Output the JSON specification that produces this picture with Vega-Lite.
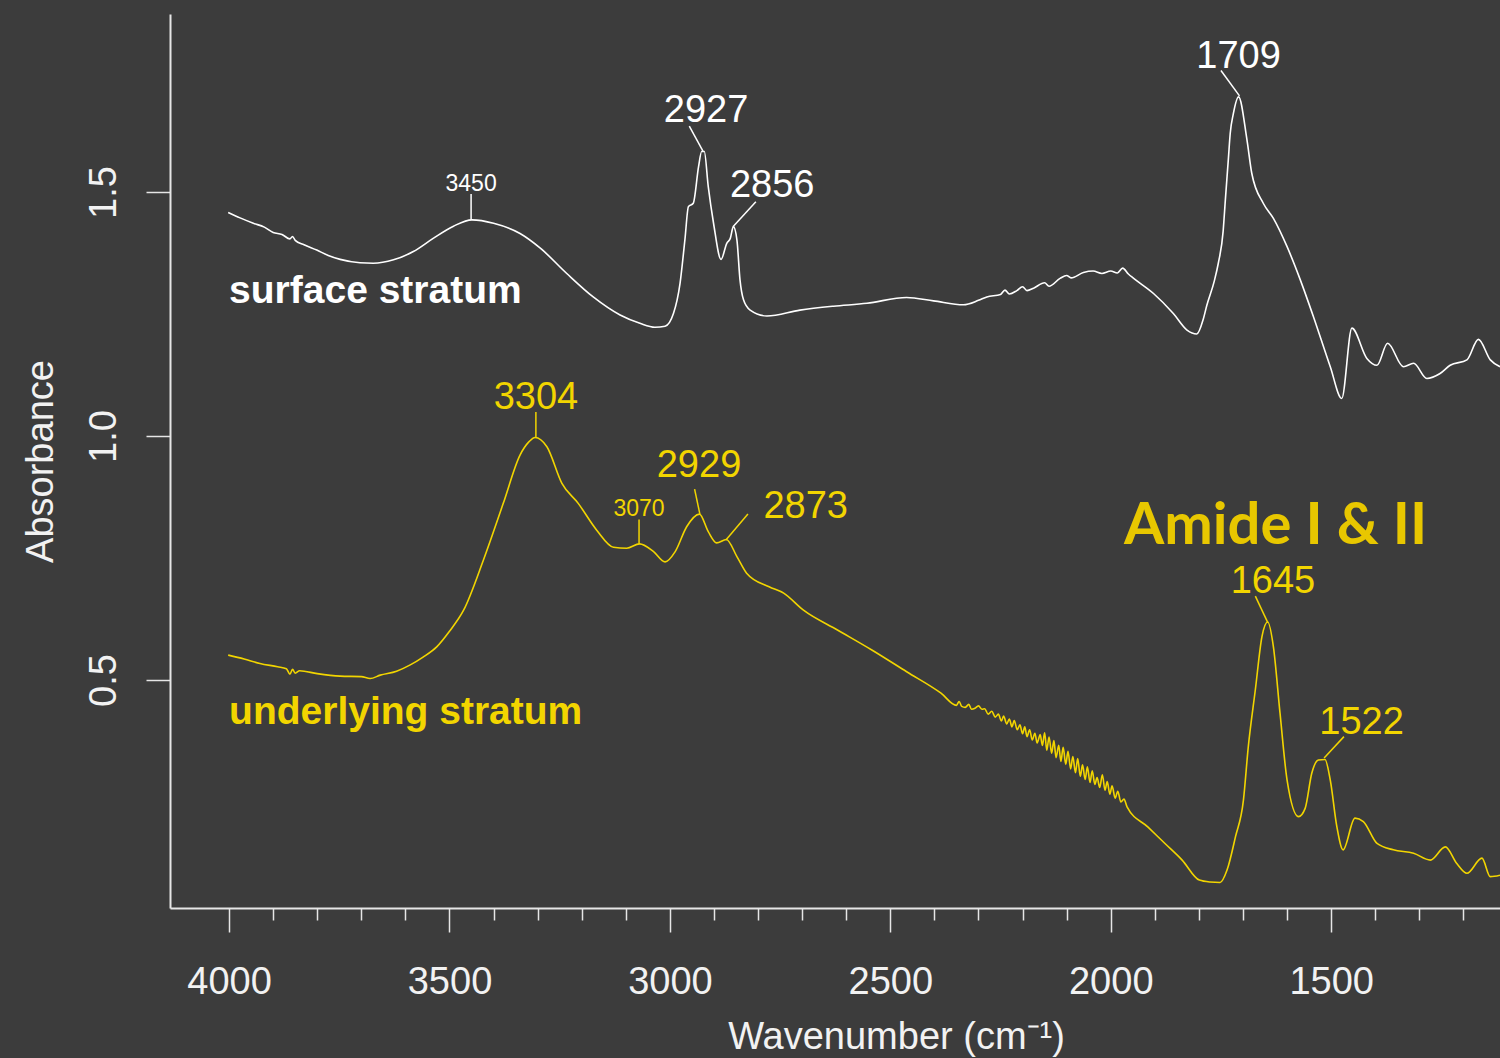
{
  "$schema": "https://vega.github.io/schema/vega-lite/v6.json",
  "width": 1330,
  "height": 894,
  "autosize": {"type": "none"},
  "padding": {"left": 170, "top": 14, "right": 0, "bottom": 150},
  "background": "#3c3c3c",
  "config": {"view": {"stroke": null}, "font": "Liberation Sans"},
  "datasets": {
    "surface": [
      {"w":4002,"a":1.458},{"w":3975,"a":1.447},{"w":3945,"a":1.436},{"w":3920,"a":1.428},{"w":3900,"a":1.417},
      {"w":3880,"a":1.413},{"w":3862,"a":1.404},{"w":3856,"a":1.409},{"w":3850,"a":1.401},{"w":3830,"a":1.392},{"w":3801,"a":1.381},
      {"w":3775,"a":1.370},{"w":3748,"a":1.362},{"w":3703,"a":1.355},{"w":3673,"a":1.354},{"w":3627,"a":1.361},
      {"w":3582,"a":1.378},{"w":3537,"a":1.405},{"w":3491,"a":1.430},{"w":3449,"a":1.443},{"w":3400,"a":1.436},
      {"w":3340,"a":1.415},{"w":3294,"a":1.385},{"w":3234,"a":1.333},{"w":3174,"a":1.285},{"w":3113,"a":1.248},
      {"w":3068,"a":1.231},{"w":3034,"a":1.223},{"w":3011,"a":1.225},{"w":2992,"a":1.251},{"w":2977,"a":1.313},
      {"w":2966,"a":1.402},{"w":2958,"a":1.470},{"w":2947,"a":1.477},{"w":2935,"a":1.552},{"w":2928,"a":1.583},
      {"w":2922,"a":1.583},{"w":2913,"a":1.511},{"w":2901,"a":1.436},{"w":2884,"a":1.362},{"w":2871,"a":1.395},
      {"w":2863,"a":1.405},{"w":2856,"a":1.429},{"w":2848,"a":1.402},{"w":2841,"a":1.320},{"w":2833,"a":1.279},
      {"w":2818,"a":1.258},{"w":2780,"a":1.246},{"w":2705,"a":1.258},{"w":2629,"a":1.266},{"w":2553,"a":1.272},
      {"w":2463,"a":1.284},{"w":2402,"a":1.277},{"w":2334,"a":1.269},{"w":2300,"a":1.278},{"w":2281,"a":1.285},{"w":2250,"a":1.290},
      {"w":2240,"a":1.299},{"w":2230,"a":1.291},{"w":2213,"a":1.298},{"w":2200,"a":1.306},{"w":2190,"a":1.298},
      {"w":2175,"a":1.303},{"w":2150,"a":1.314},{"w":2140,"a":1.307},{"w":2115,"a":1.323},{"w":2100,"a":1.329},
      {"w":2090,"a":1.324},{"w":2062,"a":1.335},{"w":2040,"a":1.338},{"w":2020,"a":1.333},{"w":2000,"a":1.338},
      {"w":1985,"a":1.334},{"w":1973,"a":1.344},{"w":1960,"a":1.332},{"w":1948,"a":1.323},{"w":1903,"a":1.292},
      {"w":1858,"a":1.251},{"w":1827,"a":1.217},{"w":1805,"a":1.209},{"w":1790,"a":1.240},{"w":1782,"a":1.268},
      {"w":1765,"a":1.318},{"w":1756,"a":1.354},{"w":1745,"a":1.420},{"w":1740,"a":1.484},{"w":1733,"a":1.570},
      {"w":1729,"a":1.620},{"w":1722,"a":1.660},{"w":1710,"a":1.695},{"w":1691,"a":1.607},{"w":1680,"a":1.538},
      {"w":1654,"a":1.477},{"w":1631,"a":1.446},{"w":1600,"a":1.388},{"w":1570,"a":1.320},{"w":1540,"a":1.244},
      {"w":1502,"a":1.142},{"w":1476,"a":1.077},{"w":1453,"a":1.221},{"w":1419,"a":1.159},{"w":1396,"a":1.145},
      {"w":1372,"a":1.190},{"w":1336,"a":1.142},{"w":1313,"a":1.149},{"w":1283,"a":1.118},{"w":1253,"a":1.128},
      {"w":1230,"a":1.145},{"w":1192,"a":1.156},{"w":1166,"a":1.198},{"w":1139,"a":1.156},{"w":1117,"a":1.142}
    ],
    "underlying": [
      {"w":4002,"a":0.551},{"w":3966,"a":0.543},{"w":3930,"a":0.534},{"w":3890,"a":0.527},{"w":3870,"a":0.523},
      {"w":3862,"a":0.512},{"w":3856,"a":0.522},{"w":3850,"a":0.514},{"w":3840,"a":0.519},{"w":3800,"a":0.513},
      {"w":3748,"a":0.508},{"w":3700,"a":0.507},{"w":3680,"a":0.503},{"w":3657,"a":0.510},{"w":3620,"a":0.518},
      {"w":3589,"a":0.531},{"w":3560,"a":0.547},{"w":3529,"a":0.568},{"w":3500,"a":0.600},{"w":3468,"a":0.643},
      {"w":3423,"a":0.746},{"w":3378,"a":0.862},{"w":3340,"a":0.961},{"w":3320,"a":0.988},{"w":3306,"a":0.997},
      {"w":3279,"a":0.978},{"w":3245,"a":0.903},{"w":3208,"a":0.862},{"w":3166,"a":0.807},{"w":3128,"a":0.772},
      {"w":3098,"a":0.770},{"w":3069,"a":0.779},{"w":3037,"a":0.763},{"w":3011,"a":0.742},{"w":2988,"a":0.763},
      {"w":2962,"a":0.814},{"w":2933,"a":0.840},{"w":2913,"a":0.804},{"w":2894,"a":0.781},{"w":2872,"a":0.788},
      {"w":2848,"a":0.753},{"w":2826,"a":0.719},{"w":2775,"a":0.691},{"w":2742,"a":0.678},{"w":2697,"a":0.643},
      {"w":2619,"a":0.602},{"w":2541,"a":0.561},{"w":2463,"a":0.517},{"w":2385,"a":0.473},
      {"w":2350,"a":0.448},{"w":2344,"a":0.456},{"w":2338,"a":0.446},{"w":2330,"a":0.444},{"w":2322,"a":0.450},
      {"w":2316,"a":0.440},{"w":2308,"a":0.442},{"w":2300,"a":0.447},{"w":2292,"a":0.440},{"w":2286,"a":0.441},
      {"w":2278,"a":0.430},{"w":2270,"a":0.436},{"w":2262,"a":0.424},{"w":2255,"a":0.430},{"w":2248,"a":0.416},
      {"w":2243,"a":0.426},{"w":2236,"a":0.410},{"w":2230,"a":0.420},{"w":2224,"a":0.404},{"w":2219,"a":0.417},
      {"w":2212,"a":0.398},{"w":2206,"a":0.408},{"w":2200,"a":0.390},{"w":2195,"a":0.404},{"w":2190,"a":0.384},
      {"w":2184,"a":0.398},{"w":2178,"a":0.377},{"w":2172,"a":0.391},{"w":2167,"a":0.371},{"w":2160,"a":0.388},
      {"w":2155,"a":0.366},{"w":2150,"a":0.392},{"w":2145,"a":0.356},{"w":2140,"a":0.383},{"w":2134,"a":0.350},
      {"w":2129,"a":0.376},{"w":2124,"a":0.341},{"w":2118,"a":0.366},{"w":2113,"a":0.333},{"w":2108,"a":0.362},
      {"w":2102,"a":0.327},{"w":2097,"a":0.354},{"w":2091,"a":0.318},{"w":2086,"a":0.343},{"w":2080,"a":0.310},
      {"w":2075,"a":0.339},{"w":2069,"a":0.303},{"w":2064,"a":0.326},{"w":2058,"a":0.296},{"w":2053,"a":0.322},
      {"w":2047,"a":0.290},{"w":2042,"a":0.314},{"w":2036,"a":0.286},{"w":2031,"a":0.300},{"w":2025,"a":0.280},
      {"w":2019,"a":0.306},{"w":2013,"a":0.274},{"w":2008,"a":0.292},{"w":2002,"a":0.266},{"w":1997,"a":0.283},
      {"w":1990,"a":0.258},{"w":1984,"a":0.272},{"w":1977,"a":0.250},{"w":1970,"a":0.256},
      {"w":1963,"a":0.240},{"w":1916,"a":0.199},{"w":1877,"a":0.165},{"w":1838,"a":0.131},{"w":1799,"a":0.090},
      {"w":1775,"a":0.086},{"w":1752,"a":0.085},{"w":1736,"a":0.111},{"w":1717,"a":0.179},{"w":1699,"a":0.254},
      {"w":1688,"a":0.363},{"w":1672,"a":0.480},{"w":1657,"a":0.589},{"w":1644,"a":0.619},{"w":1631,"a":0.568},
      {"w":1616,"a":0.432},{"w":1600,"a":0.295},{"w":1574,"a":0.220},{"w":1559,"a":0.237},{"w":1544,"a":0.309},
      {"w":1529,"a":0.336},{"w":1514,"a":0.337},{"w":1502,"a":0.295},{"w":1487,"a":0.199},{"w":1473,"a":0.152},
      {"w":1446,"a":0.217},{"w":1427,"a":0.210},{"w":1396,"a":0.165},{"w":1359,"a":0.152},{"w":1313,"a":0.145},
      {"w":1275,"a":0.131},{"w":1241,"a":0.158},{"w":1215,"a":0.124},{"w":1192,"a":0.104},{"w":1158,"a":0.135},
      {"w":1139,"a":0.097},{"w":1117,"a":0.100}
    ],
    "leaders": [
      {"w":3451,"a":1.496,"w2":3451,"a2":1.443,"series":"surface"},
      {"w":2956,"a":1.635,"w2":2925,"a2":1.584,"series":"surface"},
      {"w":2805,"a":1.480,"w2":2857,"a2":1.429,"series":"surface"},
      {"w":1750,"a":1.749,"w2":1708,"a2":1.697,"series":"surface"},
      {"w":3304,"a":1.049,"w2":3304,"a2":0.997,"series":"underlying"},
      {"w":3070,"a":0.829,"w2":3070,"a2":0.779,"series":"underlying"},
      {"w":2944,"a":0.891,"w2":2932,"a2":0.840,"series":"underlying"},
      {"w":2823,"a":0.840,"w2":2873,"a2":0.787,"series":"underlying"},
      {"w":1672,"a":0.672,"w2":1644,"a2":0.618,"series":"underlying"},
      {"w":1471,"a":0.384,"w2":1516,"a2":0.340,"series":"underlying"}
    ],
    "peaks": [
      {"w":3451,"a":1.502,"label":"3450","series":"surface","kind":"minor"},
      {"w":2918,"a":1.643,"label":"2927","series":"surface","kind":"major"},
      {"w":2768,"a":1.490,"label":"2856","series":"surface","kind":"major"},
      {"w":1710,"a":1.754,"label":"1709","series":"surface","kind":"major"},
      {"w":3304,"a":1.055,"label":"3304","series":"underlying","kind":"major"},
      {"w":3070,"a":0.836,"label":"3070","series":"underlying","kind":"minor"},
      {"w":2934,"a":0.916,"label":"2929","series":"underlying","kind":"major"},
      {"w":2692,"a":0.832,"label":"2873","series":"underlying","kind":"major"},
      {"w":1632,"a":0.678,"label":"1645","series":"underlying","kind":"major"},
      {"w":1431,"a":0.389,"label":"1522","series":"underlying","kind":"major"}
    ],
    "series": [
      {"w":4000,"a":1.2725,"label":"surface stratum","series":"surface"},
      {"w":4000,"a":0.4098,"label":"underlying stratum","series":"underlying"}
    ],
    "band": [
      {"w":1970,"a":0.779,"label":"Amide I & II"}
    ]
  },
  "encoding": {
    "x": {
      "field": "w",
      "type": "quantitative",
      "scale": {"domain": [1117, 4134], "reverse": true, "nice": false, "zero": false},
      "axis": {
        "title": "Wavenumber (cm⁻¹)",
        "values": [1200,1300,1400,1500,1600,1700,1800,1900,2000,2100,2200,2300,2400,2500,2600,2700,2800,2900,3000,3100,3200,3300,3400,3500,3600,3700,3800,3900,4000],
        "format": "d",
        "labelExpr": "datum.value % 500 === 0 ? datum.label : ''",
        "tickSize": {"condition": {"test": "datum.value % 500 === 0", "value": 24}, "value": 12},
        "tickWidth": 1.5,
        "tickColor": "#e6e6e6",
        "domainColor": "#e6e6e6",
        "domainWidth": 2,
        "grid": false,
        "labelOverlap": false,
        "labelFlush": false,
        "labelFont": "Liberation Sans",
        "labelFontSize": 38,
        "labelColor": "#f2f2f2",
        "labelBaseline": "alphabetic",
        "labelPadding": 61,
        "titleFont": "Liberation Sans",
        "titleFontSize": 38,
        "titleFontWeight": "normal",
        "titleColor": "#f2f2f2",
        "titleBaseline": "alphabetic",
        "titleAlign": "center",
        "titleX": 726,
        "titleY": 140
      }
    },
    "y": {
      "field": "a",
      "type": "quantitative",
      "scale": {"domain": [0.0328, 1.8648], "nice": false, "zero": false},
      "axis": {
        "title": "Absorbance",
        "values": [0.5, 1.0, 1.5],
        "format": ".1f",
        "tickSize": 24,
        "tickWidth": 1.5,
        "tickColor": "#e6e6e6",
        "domainColor": "#e6e6e6",
        "domainWidth": 2,
        "grid": false,
        "labelAngle": -90,
        "labelAlign": "center",
        "labelBaseline": "alphabetic",
        "labelPadding": 31,
        "labelFont": "Liberation Sans",
        "labelFontSize": 38,
        "labelColor": "#f2f2f2",
        "titleFont": "Liberation Sans",
        "titleFontSize": 38,
        "titleFontWeight": "normal",
        "titleColor": "#f2f2f2",
        "titleAngle": -90,
        "titleBaseline": "alphabetic",
        "titleAlign": "center",
        "titleX": -118,
        "titleY": 447
      }
    }
  },
  "layer": [
    {"data": {"name": "surface"}, "mark": {"type": "line", "color": "#ffffff", "strokeWidth": 1.6, "interpolate": "monotone"}},
    {"data": {"name": "underlying"}, "mark": {"type": "line", "color": "#f2d500", "strokeWidth": 1.6, "interpolate": "monotone"}},
    {
      "data": {"name": "leaders"},
      "mark": {"type": "rule", "strokeWidth": 1.5},
      "encoding": {
        "x2": {"field": "w2"},
        "y2": {"field": "a2"},
        "color": {"field": "series", "type": "nominal", "scale": {"domain": ["surface", "underlying"], "range": ["#ffffff", "#f2d500"]}, "legend": null}
      }
    },
    {
      "data": {"name": "peaks"},
      "transform": [{"filter": "datum.kind === 'major'"}],
      "mark": {"type": "text", "font": "Liberation Sans", "fontSize": 38, "align": "center", "baseline": "alphabetic"},
      "encoding": {
        "text": {"field": "label"},
        "color": {"field": "series", "type": "nominal", "scale": {"domain": ["surface", "underlying"], "range": ["#ffffff", "#f2d500"]}, "legend": null}
      }
    },
    {
      "data": {"name": "peaks"},
      "transform": [{"filter": "datum.kind === 'minor'"}],
      "mark": {"type": "text", "font": "Liberation Sans", "fontSize": 23, "align": "center", "baseline": "alphabetic"},
      "encoding": {
        "text": {"field": "label"},
        "color": {"field": "series", "type": "nominal", "scale": {"domain": ["surface", "underlying"], "range": ["#ffffff", "#f2d500"]}, "legend": null}
      }
    },
    {
      "data": {"name": "series"},
      "mark": {"type": "text", "font": "Liberation Sans", "fontSize": 39, "fontWeight": "bold", "align": "left", "baseline": "alphabetic"},
      "encoding": {
        "text": {"field": "label"},
        "color": {"field": "series", "type": "nominal", "scale": {"domain": ["surface", "underlying"], "range": ["#ffffff", "#f2d500"]}, "legend": null}
      }
    },
    {
      "data": {"name": "band"},
      "mark": {"type": "text", "font": "Lato", "fontSize": 58, "fontWeight": "bold", "align": "left", "baseline": "alphabetic", "color": "#e8c700"},
      "encoding": {"text": {"field": "label"}}
    }
  ]
}
